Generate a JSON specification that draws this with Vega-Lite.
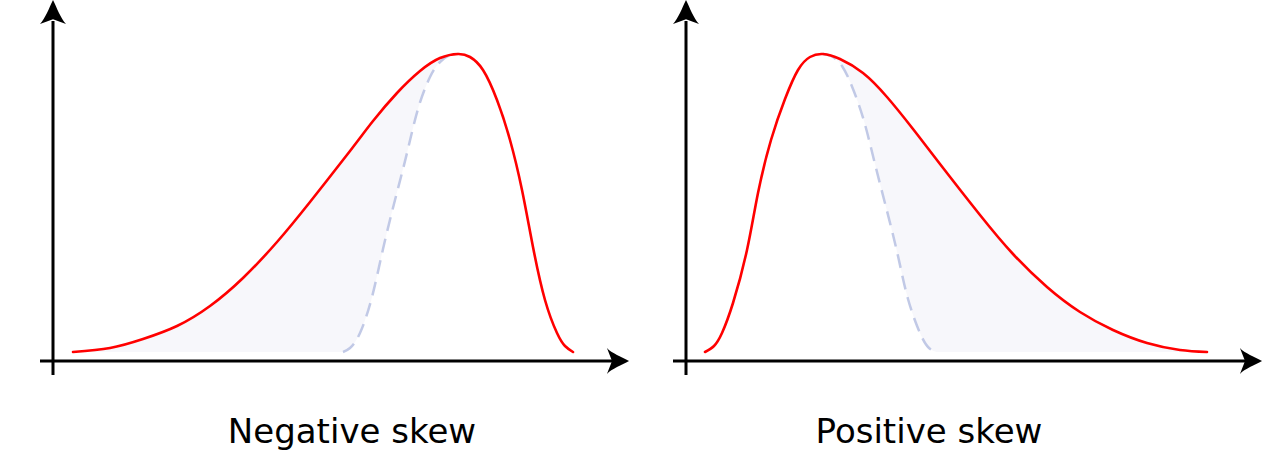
{
  "$schema": "https://vega.github.io/schema/vega-lite/v6.json",
  "padding": 0,
  "background": "white",
  "data": {"values": [
    {"panel":"Negative skew","series":"red","x":0.20,"y":0.09},
    {"panel":"Negative skew","series":"red","x":0.57,"y":0.13},
    {"panel":"Negative skew","series":"red","x":0.90,"y":0.22},
    {"panel":"Negative skew","series":"red","x":1.24,"y":0.35},
    {"panel":"Negative skew","series":"red","x":1.57,"y":0.55},
    {"panel":"Negative skew","series":"red","x":1.90,"y":0.83},
    {"panel":"Negative skew","series":"red","x":2.24,"y":1.19},
    {"panel":"Negative skew","series":"red","x":2.57,"y":1.59},
    {"panel":"Negative skew","series":"red","x":2.97,"y":2.10},
    {"panel":"Negative skew","series":"red","x":3.20,"y":2.40},
    {"panel":"Negative skew","series":"red","x":3.44,"y":2.68},
    {"panel":"Negative skew","series":"red","x":3.67,"y":2.90},
    {"panel":"Negative skew","series":"red","x":3.87,"y":3.03},
    {"panel":"Negative skew","series":"red","x":4.05,"y":3.07},
    {"panel":"Negative skew","series":"red","x":4.17,"y":3.04},
    {"panel":"Negative skew","series":"red","x":4.30,"y":2.91},
    {"panel":"Negative skew","series":"red","x":4.44,"y":2.61},
    {"panel":"Negative skew","series":"red","x":4.57,"y":2.21},
    {"panel":"Negative skew","series":"red","x":4.69,"y":1.71},
    {"panel":"Negative skew","series":"red","x":4.80,"y":1.14},
    {"panel":"Negative skew","series":"red","x":4.92,"y":0.61},
    {"panel":"Negative skew","series":"red","x":5.04,"y":0.28},
    {"panel":"Negative skew","series":"red","x":5.12,"y":0.15},
    {"panel":"Negative skew","series":"red","x":5.20,"y":0.09},
    {"panel":"Negative skew","series":"normal","x":2.90,"y":0.09},
    {"panel":"Negative skew","series":"normal","x":2.97,"y":0.13},
    {"panel":"Negative skew","series":"normal","x":3.07,"y":0.28},
    {"panel":"Negative skew","series":"normal","x":3.19,"y":0.64},
    {"panel":"Negative skew","series":"normal","x":3.30,"y":1.12},
    {"panel":"Negative skew","series":"normal","x":3.42,"y":1.61},
    {"panel":"Negative skew","series":"normal","x":3.54,"y":2.08},
    {"panel":"Negative skew","series":"normal","x":3.65,"y":2.52},
    {"panel":"Negative skew","series":"normal","x":3.77,"y":2.84},
    {"panel":"Negative skew","series":"normal","x":3.87,"y":2.99},
    {"panel":"Negative skew","series":"normal","x":3.97,"y":3.06},
    {"panel":"Negative skew","series":"normal","x":4.05,"y":3.07},
    {"panel":"Positive skew","series":"red","x":0.19,"y":0.09},
    {"panel":"Positive skew","series":"red","x":0.28,"y":0.15},
    {"panel":"Positive skew","series":"red","x":0.36,"y":0.28},
    {"panel":"Positive skew","series":"red","x":0.47,"y":0.58},
    {"panel":"Positive skew","series":"red","x":0.61,"y":1.11},
    {"panel":"Positive skew","series":"red","x":0.72,"y":1.68},
    {"panel":"Positive skew","series":"red","x":0.85,"y":2.21},
    {"panel":"Positive skew","series":"red","x":0.99,"y":2.62},
    {"panel":"Positive skew","series":"red","x":1.12,"y":2.91},
    {"panel":"Positive skew","series":"red","x":1.24,"y":3.04},
    {"panel":"Positive skew","series":"red","x":1.37,"y":3.07},
    {"panel":"Positive skew","series":"red","x":1.54,"y":3.02},
    {"panel":"Positive skew","series":"red","x":1.77,"y":2.88},
    {"panel":"Positive skew","series":"red","x":2.01,"y":2.64},
    {"panel":"Positive skew","series":"red","x":2.27,"y":2.32},
    {"panel":"Positive skew","series":"red","x":2.54,"y":1.97},
    {"panel":"Positive skew","series":"red","x":2.94,"y":1.46},
    {"panel":"Positive skew","series":"red","x":3.27,"y":1.07},
    {"panel":"Positive skew","series":"red","x":3.61,"y":0.74},
    {"panel":"Positive skew","series":"red","x":3.94,"y":0.49},
    {"panel":"Positive skew","series":"red","x":4.27,"y":0.31},
    {"panel":"Positive skew","series":"red","x":4.61,"y":0.18},
    {"panel":"Positive skew","series":"red","x":4.94,"y":0.11},
    {"panel":"Positive skew","series":"red","x":5.21,"y":0.09},
    {"panel":"Positive skew","series":"normal","x":1.37,"y":3.07},
    {"panel":"Positive skew","series":"normal","x":1.45,"y":3.05},
    {"panel":"Positive skew","series":"normal","x":1.56,"y":2.95},
    {"panel":"Positive skew","series":"normal","x":1.67,"y":2.72},
    {"panel":"Positive skew","series":"normal","x":1.78,"y":2.40},
    {"panel":"Positive skew","series":"normal","x":1.89,"y":1.97},
    {"panel":"Positive skew","series":"normal","x":2.01,"y":1.50},
    {"panel":"Positive skew","series":"normal","x":2.12,"y":1.05},
    {"panel":"Positive skew","series":"normal","x":2.22,"y":0.62},
    {"panel":"Positive skew","series":"normal","x":2.34,"y":0.28},
    {"panel":"Positive skew","series":"normal","x":2.43,"y":0.13},
    {"panel":"Positive skew","series":"normal","x":2.51,"y":0.09},
    {"panel":"Negative skew","series":"xaxis","x":-0.13,"y":0},
    {"panel":"Negative skew","series":"xaxis","x":5.59,"y":0},
    {"panel":"Negative skew","series":"yaxis","x":0,"y":-0.14},
    {"panel":"Negative skew","series":"yaxis","x":0,"y":3.40},
    {"panel":"Positive skew","series":"xaxis","x":-0.13,"y":0},
    {"panel":"Positive skew","series":"xaxis","x":5.59,"y":0},
    {"panel":"Positive skew","series":"yaxis","x":0,"y":-0.14},
    {"panel":"Positive skew","series":"yaxis","x":0,"y":3.40},
    {"panel":"Negative skew","series":"uparrow","x":0,"y":3.49},
    {"panel":"Negative skew","series":"rightarrow","x":5.65,"y":0},
    {"panel":"Positive skew","series":"uparrow","x":0,"y":3.49},
    {"panel":"Positive skew","series":"rightarrow","x":5.65,"y":0},
    {"panel":"Negative skew","series":"label","x":2.99,"y":-0.82},
    {"panel":"Positive skew","series":"label","x":2.43,"y":-0.82}
  ]},
  "facet": {"column": {"field": "panel", "type": "nominal", "header": {"labels": false, "title": null}}},
  "spacing": 0,
  "spec": {
    "width": 633,
    "height": 456,
    "encoding": {
      "x": {"field": "x", "type": "quantitative", "scale": {"domain": [-0.53, 5.80], "nice": false, "zero": false}, "axis": null},
      "y": {"field": "y", "type": "quantitative", "scale": {"domain": [-0.95, 3.61], "nice": false, "zero": false}, "axis": null}
    },
    "layer": [
      {
        "transform": [{"filter": "datum.series == 'red' && ((datum.panel == 'Negative skew' && datum.x <= 4.05) || (datum.panel == 'Positive skew' && datum.x >= 1.37))"}],
        "mark": {"type": "area", "color": "#f7f7fb", "interpolate": "natural"},
        "encoding": {"y2": {"datum": 0.09}}
      },
      {
        "transform": [{"filter": "datum.series == 'normal'"}],
        "mark": {"type": "area", "color": "white", "interpolate": "natural"},
        "encoding": {"y2": {"datum": 0.09}}
      },
      {
        "transform": [{"filter": "datum.series == 'normal'"}],
        "mark": {"type": "line", "color": "#c1c9e6", "strokeWidth": 2.5, "strokeDash": [14, 8], "interpolate": "natural"},
        "encoding": {}
      },
      {
        "transform": [{"filter": "datum.series == 'red'"}],
        "mark": {"type": "line", "color": "#ff0000", "strokeWidth": 2.6, "interpolate": "natural", "strokeCap": "round"},
        "encoding": {}
      },
      {
        "transform": [{"filter": "datum.series == 'xaxis' || datum.series == 'yaxis'"}],
        "mark": {"type": "line", "color": "black", "strokeWidth": 3},
        "encoding": {"detail": {"field": "series"}}
      },
      {
        "transform": [{"filter": "datum.series == 'uparrow'"}],
        "mark": {"type": "point", "filled": true, "color": "black", "opacity": 1, "size": 676, "shape": "M0,-0.92 C0.3,-0.3 0.6,0.5 1,0.92 L0,0.56 L-1,0.92 C-0.6,0.5 -0.3,-0.3 0,-0.92 Z"},
        "encoding": {}
      },
      {
        "transform": [{"filter": "datum.series == 'rightarrow'"}],
        "mark": {"type": "point", "filled": true, "color": "black", "opacity": 1, "size": 676, "shape": "M0.85,0 C0.3,0.3 -0.5,0.6 -0.85,1 L-0.46,0 L-0.85,-1 C-0.5,-0.6 0.3,-0.3 0.85,0 Z"},
        "encoding": {}
      },
      {
        "transform": [{"filter": "datum.series == 'label'"}],
        "mark": {"type": "text", "font": "DejaVu Sans", "fontSize": 34, "align": "center", "baseline": "alphabetic", "color": "black"},
        "encoding": {"text": {"field": "panel", "type": "nominal"}}
      }
    ]
  },
  "config": {"view": {"stroke": null}}
}
